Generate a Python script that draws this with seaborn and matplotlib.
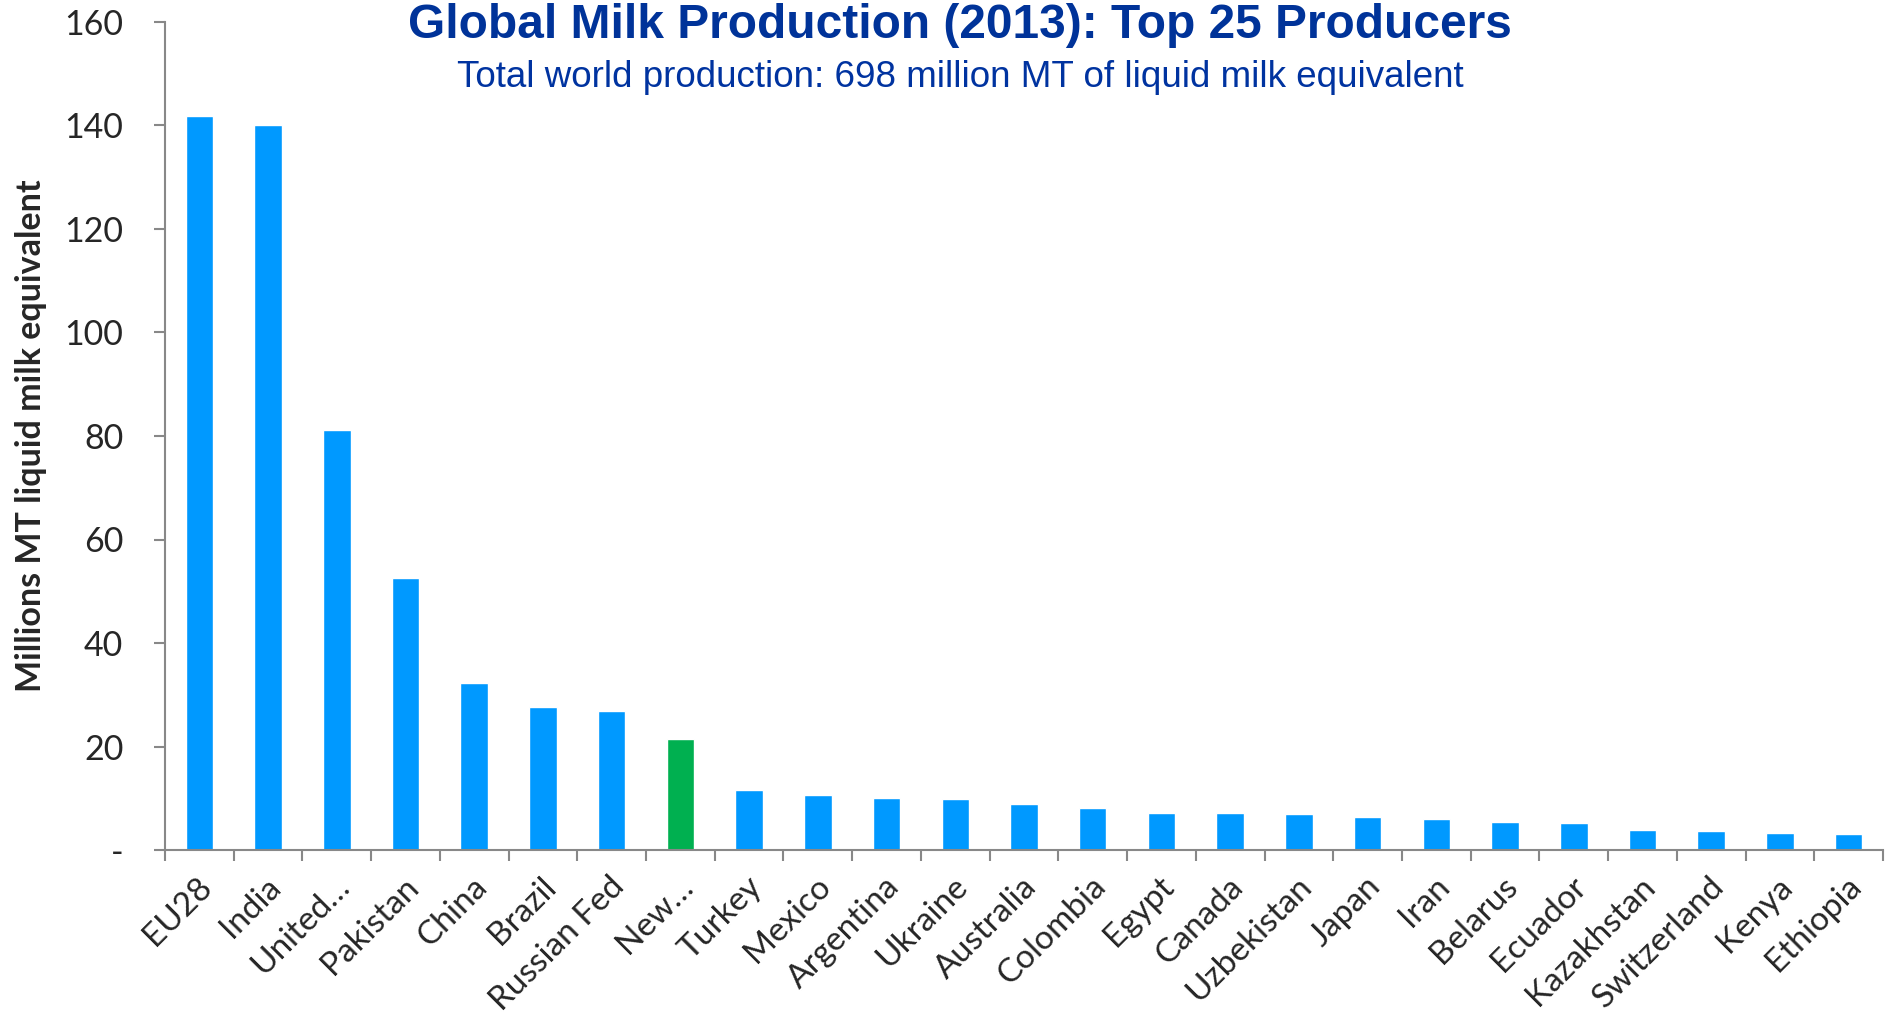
import matplotlib
matplotlib.use("Agg")
import matplotlib.pyplot as plt
import matplotlib.transforms as mtransforms
import seaborn as sns
import pandas as pd
from matplotlib.ticker import FixedLocator

countries = ["EU28", "India", "United…", "Pakistan", "China", "Brazil", "Russian Fed",
             "New…", "Turkey", "Mexico", "Argentina", "Ukraine", "Australia", "Colombia",
             "Egypt", "Canada", "Uzbekistan", "Japan", "Iran", "Belarus", "Ecuador",
             "Kazakhstan", "Switzerland", "Kenya", "Ethiopia"]
production = [141.9, 140.0, 81.2, 52.6, 32.3, 27.6, 26.9, 21.4, 11.5, 10.6, 10.1, 9.9,
              8.9, 8.1, 7.2, 7.1, 7.0, 6.4, 6.0, 5.4, 5.2, 3.9, 3.7, 3.3, 3.1]
highlight = ["no"] * 7 + ["yes"] + ["no"] * 17
y_ticks = [0, 20, 40, 60, 80, 100, 120, 140, 160]
y_tick_labels = ["-", "20", "40", "60", "80", "100", "120", "140", "160"]

title = "Global Milk Production (2013): Top 25 Producers"
subtitle = "Total world production: 698 million MT of liquid milk equivalent"
ylabel = "Millions MT liquid milk equivalent"

df = pd.DataFrame({"country": countries, "value": production, "hl": highlight})

sns.set_theme(style="white")
plt.rcParams["font.family"] = ["Lato", "DejaVu Sans"]

fig = plt.figure(figsize=(18.88, 10.30), dpi=100)
ax_left, ax_right = 165, 1883
ax = fig.add_axes([ax_left/1888, 1 - 850/1030, (ax_right - ax_left)/1888, (850 - 22)/1030])

sns.barplot(data=df, x="country", y="value", hue="hl",
            palette={"no": "#0099FF", "yes": "#00B050"},
            width=0.4, dodge=False, legend=False, ax=ax, saturation=1)

ax.set_xlim(-0.5, len(countries) - 0.5)
ax.set_ylim(0, 160)
ax.set_yticks(y_ticks)
ax.set_yticklabels(y_tick_labels, fontsize=24.5)
ax.set_xticks(range(len(countries)))
ax.set_xticklabels(countries, fontsize=24, rotation=45, ha="right",
                   rotation_mode="anchor", va="center")
ax.xaxis.set_minor_locator(FixedLocator([i - 0.5 for i in range(len(countries) + 1)]))

spine_color = "#888888"
for s in ["top", "right"]:
    ax.spines[s].set_visible(False)
for s in ["left", "bottom"]:
    ax.spines[s].set_color(spine_color)
    ax.spines[s].set_linewidth(1.5)

ax.tick_params(axis="y", which="major", direction="out", length=8, width=1.5,
               color=spine_color, pad=22, left=True)
ax.tick_params(axis="x", which="major", length=0, pad=23)
ax.tick_params(axis="x", which="minor", direction="out", length=8, width=1.5,
               color=spine_color, bottom=True)

offset = mtransforms.ScaledTranslation(8/100, 0, fig.dpi_scale_trans)
for lbl in ax.get_xticklabels():
    lbl.set_transform(lbl.get_transform() + offset)

ax.set_xlabel("")
ax.set_ylabel(ylabel, fontsize=24.5, fontweight="bold", va="center")
ax.yaxis.set_label_coords((31 - ax_left) / (ax_right - ax_left), 0.5)

fig.text(960/1888, 1 - 26/1030, title, ha="center", va="center", fontsize=34.5,
         fontweight="bold", color="#003399", family=["Liberation Sans", "DejaVu Sans"])
fig.text(960/1888, 1 - 77/1030, subtitle, ha="center", va="center", fontsize=26.5,
         color="#0033A0", family=["Liberation Sans", "DejaVu Sans"])

fig.savefig("out.png", dpi=100)
